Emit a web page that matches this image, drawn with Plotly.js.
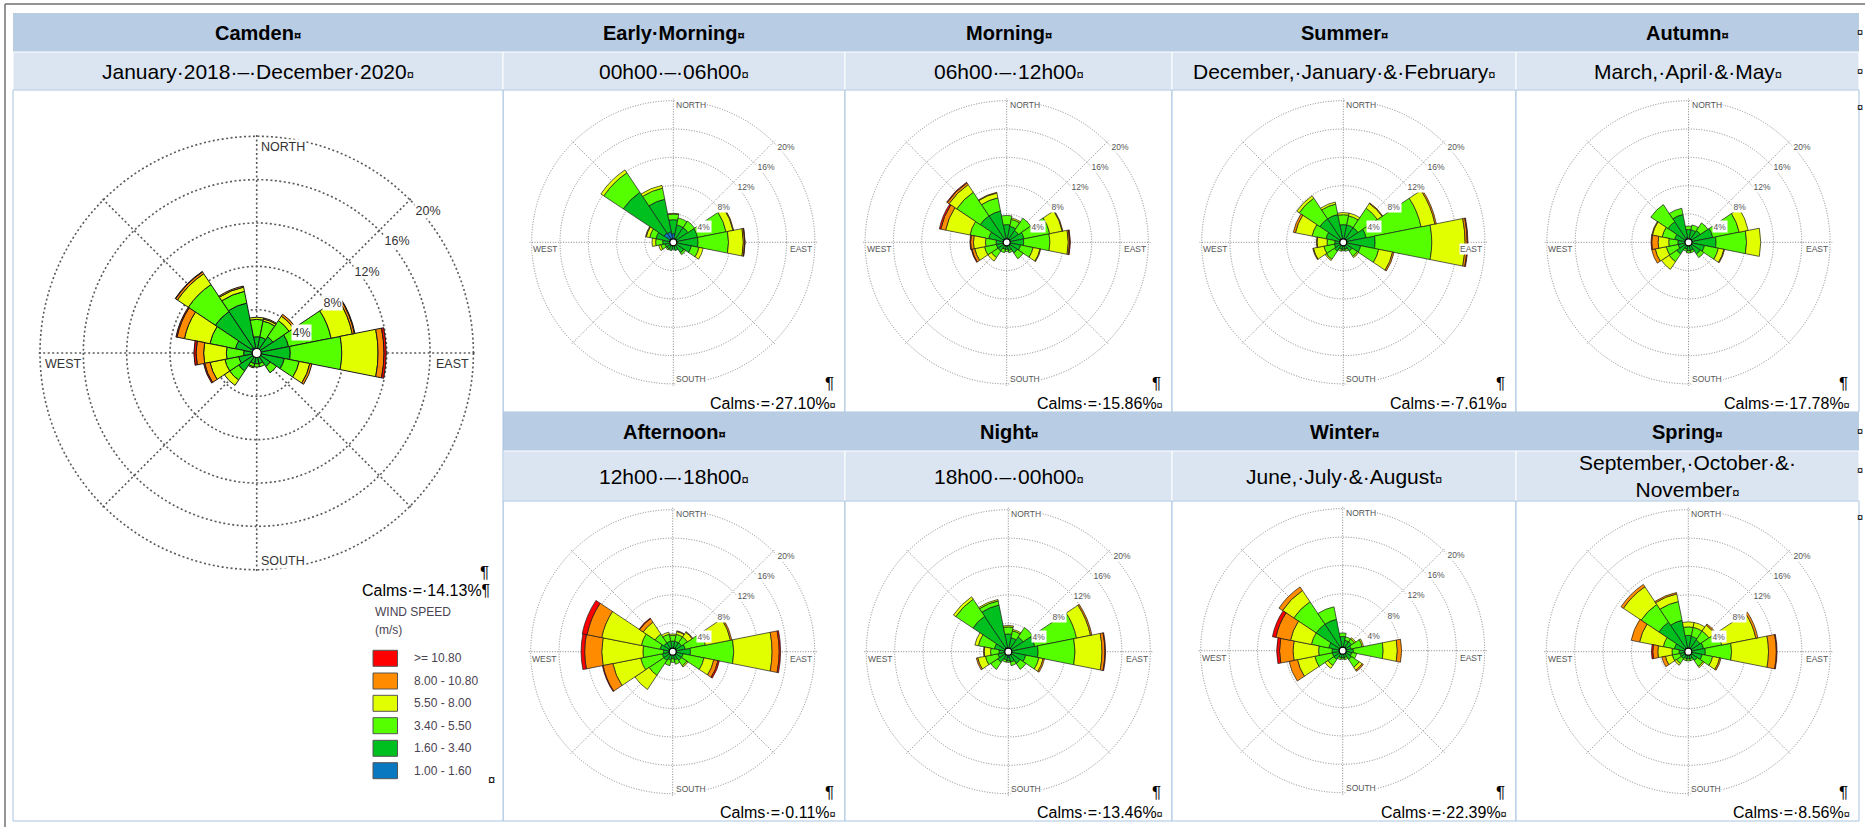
<!DOCTYPE html>
<html><head><meta charset="utf-8">
<script src="https://cdn.plot.ly/plotly-3.0.1.min.js"></script>
<style>html,body{margin:0;padding:0;background:#fff;overflow:hidden}#chart{width:1865px;height:827px}</style>
</head><body><div id="chart"></div>
<script>
// ---------------- DATA ----------------
const directions = [0,22.5,45,67.5,90,112.5,135,157.5,180,202.5,225,247.5,270,292.5,315,337.5];
const directionNames = ['N','NNE','NE','ENE','E','ESE','SE','SSE','S','SSW','SW','WSW','W','WNW','NW','NNW'];
const speedBins = ['1.00 - 1.60','1.60 - 3.40','3.40 - 5.50','5.50 - 8.00','8.00 - 10.80','>= 10.80'];
const radialTicks = [4,8,12,16,20];
const radialTickLabels = ['4%','8%','12%','16%','20%'];
const compassLabels = ['NORTH','EAST','SOUTH','WEST'];

// frequency (%) per direction; rows = speed bins in order of speedBins
const camden = [
  [0.3,0.3,0.3,0.3,0.3,0.3,0.3,0.3,0.3,0.3,0.3,0.3,0.3,0.3,0.6,0.5],
  [1.2,1.2,1.5,2.7,2.8,2.3,1.2,0.7,0.7,0.7,1.7,1.4,0.9,1.7,4.0,4.2],
  [1.6,1.5,1.8,4.0,4.75,1.4,0.7,0.3,0.3,0.3,1.0,1.3,1.6,2.4,3.0,1.1],
  [0.2,0.2,0.5,2.0,3.35,1.0,0,0,0,0.1,0.6,1.4,2.1,2.4,1.2,0.4],
  [0,0.1,0.2,0.2,0.55,0.2,0,0,0,0,0,0.5,0.7,0.7,0.2,0.1],
  [0,0,0,0.05,0.2,0,0,0,0,0,0,0.1,0.2,0.1,0.05,0]
];
const earlyMorning = [
  [1.2,0.5,0.4,0.3,0.3,0.3,0.3,0.3,0.3,0.3,0.3,0.3,0.3,0.5,1.6,1.5],
  [2.0,2.0,2.1,3.2,3.2,2.3,1.5,0.9,0.7,0.9,0.8,0.9,1.2,2.0,6.9,4.7],
  [0.8,1.0,1.1,4.1,4.3,1.1,0.3,0,0,0,0.2,0.6,1.0,0.9,3.3,1.6],
  [0.1,0,0,1.0,2.1,0.6,0,0,0,0,0,0.3,0.5,0.5,0.5,0.4],
  [0,0,0,0.1,0.2,0,0,0,0,0,0,0,0,0.1,0,0],
  [0,0,0,0,0.05,0,0,0,0,0,0,0,0,0,0,0]
];
const morning = [
  [0.6,0.3,0.3,0.3,0.3,0.3,0.3,0.3,0.3,0.3,0.3,0.3,0.3,0.3,0.4,0.4],
  [1.9,2.0,1.7,2.2,2.1,1.7,1.5,0.9,0.7,0.7,1.2,1.2,1.2,2.3,4.1,4.1],
  [1.3,1.0,2.1,3.7,3.7,1.8,1.0,0.3,0.3,0.5,1.1,1.7,1.5,2.7,4.0,1.9],
  [0,0.2,0,1.8,2.6,1.0,0,0,0,0,0.6,1.4,1.7,3.5,1.3,0.7],
  [0,0,0,0.1,0.2,0.1,0,0,0,0,0,0.4,0.4,0.7,0.3,0.1],
  [0,0,0,0,0.1,0,0,0,0,0,0,0.1,0.1,0.2,0.1,0]
];
const summer = [
  [0.3,0.3,0.3,0.3,0.3,0.3,0.3,0.3,0.3,0.3,0.3,0.3,0.3,0.3,0.3,0.3],
  [2.2,2.2,2.2,3.0,4.2,2.2,1.2,0.7,0.7,0.7,1.2,1.0,0.9,2.2,3.7,3.7],
  [1.4,1.3,3.3,7.9,8.0,2.6,0.9,0.3,0.2,0.3,1.4,1.5,1.1,2.0,3.5,1.5],
  [0.3,0.4,0.8,2.0,4.7,2.0,0.2,0,0,0,0.2,1.5,1.4,2.4,0.4,0.3],
  [0,0,0.1,0.2,0.3,0.2,0,0,0,0,0,0.1,0.1,0.3,0,0],
  [0,0,0,0,0.1,0,0,0,0,0,0,0,0,0,0,0]
];
const autumn = [
  [0.3,0.3,0.3,0.3,0.3,0.3,0.3,0.3,0.3,0.3,0.3,0.3,0.3,0.3,0.5,0.7],
  [1.5,1.5,1.7,3.2,3.6,2.0,1.7,0.9,0.9,0.7,1.7,1.2,1.2,1.7,3.0,3.3],
  [0.5,0.7,1.3,3.8,4.3,2.0,0.6,0.3,0.3,0.3,1.3,1.7,1.3,1.8,2.9,0.9],
  [0,0,0,1.3,2.0,0.8,0,0,0,0,1.3,1.6,1.5,1.4,0,0],
  [0,0,0,0,0,0.1,0,0,0,0,0,0.5,0.9,0.1,0,0],
  [0,0,0,0,0,0,0,0,0,0,0,0,0.1,0,0,0]
];
const afternoon = [
  [0.3,0.3,0.3,0.3,0.3,0.3,0.3,0.3,0.3,0.3,0.3,0.3,0.3,0.3,0.3,0.3],
  [1.2,1.2,1.2,1.5,2.2,1.2,1.2,0.9,0.7,0.9,1.2,1.2,1.0,1.5,1.2,1.2],
  [0.8,1.0,1.0,2.9,6.1,3.0,0.9,0.6,0.5,0.8,2.5,3.1,2.9,2.7,1.5,1.0],
  [0.2,0.4,0.8,3.6,5.4,1.4,0.2,0,0,0,2.4,4.0,5.8,5.7,2.0,0.3],
  [0,0.1,0.1,0.2,1.0,0.6,0,0,0,0,0,1.4,2.4,2.1,0.6,0],
  [0,0,0,0,0.2,0.2,0,0,0,0,0,0.1,0.5,0.7,0.1,0]
];
const night = [
  [0.3,0.3,0.3,0.3,0.3,0.3,0.3,0.3,0.8,0.3,0.3,0.3,0.3,0.3,0.6,0.6],
  [2.2,1.7,2.2,3.5,3.9,2.2,1.7,1.2,0.5,0.9,1.5,1.2,1.0,1.7,5.4,6.1],
  [1.0,1.0,1.6,6.0,5.2,1.9,1.0,0.5,0.2,0.3,1.2,1.8,1.2,2.3,2.9,0.6],
  [0.2,0.2,0,2.0,3.8,0.6,0,0,0,0,0,1.1,0.9,0.5,0.4,0.2],
  [0,0,0,0.2,0.4,0.2,0,0,0,0,0,0.2,0.1,0,0,0],
  [0,0,0,0,0.1,0,0,0,0,0,0,0,0,0,0,0]
];
const winter = [
  [0.5,0.3,0.3,0.3,0.3,0.3,0.3,0.3,0.3,0.3,0.3,0.3,0.3,0.3,0.3,0.5],
  [1.5,1.2,1.2,0.9,1.2,1.0,1.2,0.7,0.7,0.7,1.2,1.2,1.2,1.7,4.2,4.0],
  [0.5,0.5,0.5,1.6,4.2,0.7,1.3,0.3,0.2,0.3,1.0,2.5,1.9,2.5,3.8,1.8],
  [0,0,0.2,0.2,2.0,0,0.5,0,0,0,0.5,2.5,3.6,3.0,1.9,0],
  [0,0,0,0,0.6,0,0.2,0,0,0,0,1.2,1.9,2.1,0.6,0],
  [0,0,0,0,0,0,0,0,0,0,0,0,0.4,0.5,0,0]
];
const spring = [
  [0.3,0.3,0.3,0.3,0.3,0.3,0.3,0.3,0.3,0.3,0.3,0.3,0.3,0.3,0.3,0.3],
  [2.0,1.9,1.7,1.9,2.1,1.7,1.2,0.7,0.7,0.7,0.9,0.9,1.0,1.7,4.7,4.2],
  [1.2,1.3,1.5,2.6,3.7,1.5,1.0,0.3,0.3,0.3,0.8,1.1,1.0,1.6,3.0,2.7],
  [0.7,0.7,1.0,4.9,5.2,1.0,0.2,0,0,0,0.3,1.0,2.0,3.4,3.0,1.1],
  [0,0,0.2,0.3,1.1,0.2,0,0,0,0,0,0.5,0.7,1.2,0.4,0.2],
  [0,0,0,0,0.1,0,0,0,0,0,0,0,0.2,0,0,0]
];

const roseTitles = ['Camden','Early·Morning','Morning','Summer','Autumn','Afternoon','Night','Winter','Spring'];
const roseSubtitles = ['January·2018·–·December·2020','00h00·–·06h00','06h00·–·12h00','December,·January·&·February','March,·April·&·May','12h00·–·18h00','18h00·–·00h00','June,·July·&·August','September,·October·&·<br>November'];
const calmsValues = ['14.13','27.10','15.86','7.61','17.78','0.11','13.46','22.39','8.56'];
const roseData = [camden, earlyMorning, morning, summer, autumn, afternoon, night, winter, spring];

// ---------------- STYLE / LAYOUT ----------------
const binColors = ['#0a78c0','#00c020','#55ff00','#e2ff00','#ff8c00','#ff0000'];
const W = 1865, H = 827;
const FONT = '"Liberation Sans", Arial, sans-serif';
const X = v => v / W, Y = v => 1 - v / H;
const RMAX = 20.3;
const roseGeom = [
  {cx:256.7, cy:353, R:216.7, big:true},
  {cx:673.3, cy:242.3, R:141.6}, {cx:1006.7, cy:242.3, R:141.6},
  {cx:1343.3, cy:242.3, R:141.6}, {cx:1688.5, cy:242.3, R:141.6},
  {cx:672.7, cy:651.7, R:142}, {cx:1008.3, cy:651.7, R:142},
  {cx:1342.7, cy:650.7, R:142}, {cx:1688.3, cy:651.7, R:142}
];
const colEdges = [13, 503, 845, 1172, 1516, 1859];
const rowA = [13, 52], rowB = [52, 90], rowC = [90, 412], rowD = [412, 451], rowE = [451, 501], rowF = [501, 821];
const HEAD = '#b8cce4', SUB = '#dbe5f1', BORDER = '#a9c3e0';

const shapes = [], annotations = [];
function rect(x0, y0, x1, y1, fill, line, lw) {
  shapes.push({type:'rect', xref:'paper', yref:'paper', layer:'below', x0:X(x0), x1:X(x1), y0:Y(y1), y1:Y(y0),
    fillcolor: fill, line:{color: line || 'rgba(0,0,0,0)', width: lw === undefined ? 1 : lw}});
}
function lineP(x0, y0, x1, y1, color, w) {
  shapes.push({type:'line', xref:'paper', yref:'paper', layer:'below', x0:X(x0), x1:X(x1), y0:Y(y0), y1:Y(y1), line:{color, width:w||1}});
}
function ann(text, x, y, size, opts) {
  annotations.push(Object.assign({text, x:X(x), y:Y(y), xref:'paper', yref:'paper', showarrow:false,
    xanchor:'center', yanchor:'middle', font:{family:FONT, size:size, color:'#000'}}, opts || {}));
}

// page frame
lineP(5, 4, 1865, 4, '#707070', 1.5);
lineP(5, 4, 5, 827, '#707070', 1.5);

// table cells
for (let c = 0; c < 5; c++) {
  rect(colEdges[c], rowA[0], colEdges[c+1], rowA[1], HEAD, null, 0);
  rect(colEdges[c], rowB[0], colEdges[c+1], rowB[1], SUB, '#ffffff', 1);
  if (c > 0) {
    rect(colEdges[c], rowC[0], colEdges[c+1], rowC[1], '#ffffff', BORDER, 1);
    rect(colEdges[c], rowD[0], colEdges[c+1], rowD[1], HEAD, null, 0);
    rect(colEdges[c], rowE[0], colEdges[c+1], rowE[1], SUB, '#ffffff', 1);
    rect(colEdges[c], rowF[0], colEdges[c+1], rowF[1], '#ffffff', BORDER, 1);
  }
}
rect(colEdges[0], rowC[0], colEdges[1], rowF[1], '#ffffff', BORDER, 1);

// headers
const hb = t => '<b>' + t + '<span style="font-size:13px">¤</span></b>';
const hs = t => t + '<span style="font-size:13px">¤</span>';
const topCols = [0,1,2,3,4], botCols = [1,2,3,4];
topCols.forEach((c, i) => {
  const cx = (colEdges[c] + colEdges[c+1]) / 2;
  ann(hb(roseTitles[i]), cx, 33, 20);
  ann(hs(roseSubtitles[i]), cx, 71.5, 21);
});
botCols.forEach((c, k) => {
  const i = 5 + k;
  const cx = (colEdges[c] + colEdges[c+1]) / 2;
  ann(hb(roseTitles[i]), cx, 432, 20);
  ann(hs(roseSubtitles[i]), cx, 476, 21);
});

// row-end marks at the right edge of the table
[32, 71, 107, 431, 470, 517].forEach(y => ann('¤', 1865, y, 11, {xanchor:'right'}));

// ---------------- TRACES ----------------
const data = [];
const layout = {
  width: W, height: H, margin:{l:0, r:0, t:0, b:0}, paper_bgcolor:'#fff', showlegend:false,
  shapes, annotations
};
roseGeom.forEach((g, i) => {
  const pid = i === 0 ? 'polar' : 'polar' + (i + 1);
  const gridColor = g.big ? '#5a5a5a' : '#858585';
  const dash = g.big ? '2px,2.5px' : '1px,1.6px';
  const gw = g.big ? 1.6 : 1;
  const Rd = g.R * RMAX / 20;   // domain radius so that the 20 % ring lands on g.R
  layout[pid] = {
    domain:{x:[X(g.cx - Rd), X(g.cx + Rd)], y:[Y(g.cy + Rd), Y(g.cy - Rd)]},
    bgcolor:'rgba(0,0,0,0)', barmode:'stack',
    radialaxis:{range:[0, RMAX], tickvals:radialTicks, showticklabels:false, ticks:'', showline:false,
      gridcolor:gridColor, griddash:dash, gridwidth:gw},
    angularaxis:{rotation:90, direction:'clockwise', tickvals:[0,45,90,135,180,225,270,315],
      showticklabels:false, ticks:'', showline:false, gridcolor:gridColor, griddash:dash, gridwidth:gw}
  };
  roseData[i].forEach((vals, j) => {
    data.push({type:'barpolar', subplot:pid, r:vals, theta:directions, width:22.5, name:speedBins[j],
      marker:{color:binColors[j], line:{color:'#1a1a1a', width: g.big ? 1 : 0.7}}, hoverinfo:'skip'});
  });
  data.push({type:'scatterpolar', subplot:pid, r:[0], theta:[0], mode:'markers', cliponaxis:false,
    marker:{size: g.big ? 9 : 7, color:'#fff', line:{color:'#000', width:1.2}}, hoverinfo:'skip'});

  // compass & percentage labels
  const fs = g.big ? 12.5 : 8.5, lc = g.big ? '#333' : '#555';
  const off = g.big ? 10.5 : 4.5;
  const f = {family:FONT, size:fs, color:lc};
  ann(compassLabels[0], g.cx + (g.big ? 3 : 2), g.cy - g.R + (g.big ? 11 : 4.5), fs, {xanchor:'left', font:f, bgcolor:'#fff', borderpad:0});
  ann(compassLabels[2], g.cx + (g.big ? 3 : 2), g.cy + g.R - (g.big ? 9 : 5), fs, {xanchor:'left', font:f, bgcolor:'#fff', borderpad:0});
  ann(compassLabels[3], g.cx - g.R + (g.big ? 4 : 0.5), g.cy + (g.big ? 11 : 7), fs, {xanchor:'left', font:f, bgcolor:'#fff', borderpad:0});
  ann(compassLabels[1], g.cx + g.R - (g.big ? 3 : 1.5), g.cy + (g.big ? 11 : 7), fs, {xanchor:'right', font:f, bgcolor:'#fff', borderpad:0});
  radialTicks.forEach((t, k) => {
    const rr = t / 20 * g.R * Math.SQRT1_2;
    ann(radialTickLabels[k], g.cx + rr + (g.big ? 4 : 3), g.cy - rr + off, fs, {xanchor:'left', font:f, bgcolor:'#fff', borderpad:0.5});
  });

  // calms text
  if (i > 0) {
    const col = i <= 4 ? i : i - 4;
    const right = colEdges[col + 1] - 7;
    const yC = i <= 4 ? 403 : 812;
    ann('¶', right - 2, yC - 20, 17, {xanchor:'right'});
    ann('Calms·=·' + calmsValues[i] + '%<span style="font-size:11px">¤</span>', right, yC, 16, {xanchor:'right'});
  }
});

// Camden calms + legend
ann('¶', 491, 572, 17, {xanchor:'right'});
ann('Calms·=·' + calmsValues[0] + '%¶', 492, 590, 16, {xanchor:'right'});
const lgc = '#4b4352';
ann('WIND SPEED', 372.5, 612, 12, {xanchor:'left', font:{family:FONT, size:12, color:lgc}});
ann('(m/s)', 372.5, 630, 12, {xanchor:'left', font:{family:FONT, size:12, color:lgc}});
const legendY = [658.3, 681, 703.3, 725.7, 748.3, 770.7];
for (let k = 0; k < 6; k++) {
  const j = 5 - k;
  shapes.push({type:'rect', xref:'paper', yref:'paper', layer:'above', x0:X(373), x1:X(397.5), y0:Y(legendY[k] + 8), y1:Y(legendY[k] - 8),
    fillcolor:binColors[j], line:{color:'#555', width:1}});
  ann(speedBins[j], 411.5, legendY[k], 12, {xanchor:'left', font:{family:FONT, size:12, color:lgc}});
}
ann('¤', 491.5, 779, 13);

Plotly.newPlot('chart', data, layout, {staticPlot:true, displayModeBar:false});
</script>
</body></html>
